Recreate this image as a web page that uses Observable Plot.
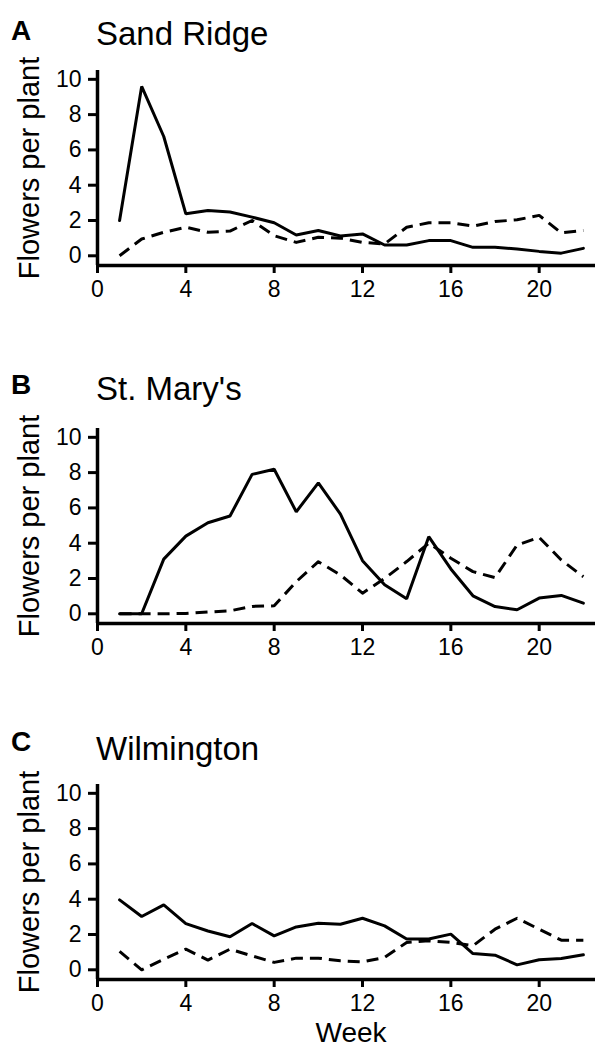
<!DOCTYPE html>
<html>
<head>
<meta charset="utf-8">
<script src="https://cdn.jsdelivr.net/npm/d3@7"></script>
<script src="https://cdn.jsdelivr.net/npm/@observablehq/plot@0.6"></script>
<style>
  body { margin: 0; background: #fff; font-family: "Liberation Sans", Arial, Helvetica, sans-serif; color: #000; }
  #root { position: relative; width: 595px; height: 1050px; overflow: hidden; background: #fff; }
  .letter { position: absolute; font-weight: bold; font-size: 28px; line-height: 1; }
  .title { position: absolute; font-size: 33px; line-height: 1; white-space: nowrap; }
  .ylab { position: absolute; font-size: 29px; line-height: 1; white-space: nowrap; transform: translate(-50%, -50%) rotate(-90deg); }
  .xlab { position: absolute; font-size: 28px; line-height: 1; white-space: nowrap; transform: translateX(-50%); }
  .panel { position: absolute; left: 0; }
  .panel svg { overflow: visible; }
</style>
</head>
<body>
<div id="root"></div>
<script>
// ---- data ----
const weeks = [1,2,3,4,5,6,7,8,9,10,11,12,13,14,15,16,17,18,19,20,21,22];

const sandRidgeSolid  = [2.0, 9.6, 6.76, 2.38, 2.57, 2.48, 2.19, 1.87, 1.18, 1.43, 1.12, 1.24, 0.61, 0.61, 0.86, 0.86, 0.48, 0.48, 0.38, 0.25, 0.15, 0.42];
const sandRidgeDashed = [0.0, 0.95, 1.33, 1.62, 1.33, 1.4, 2.0, 1.14, 0.76, 1.05, 1.0, 0.76, 0.67, 1.62, 1.87, 1.87, 1.68, 1.94, 2.04, 2.29, 1.3, 1.43];

const stMarysSolid  = [0, 0, 3.1, 4.4, 5.16, 5.54, 7.9, 8.19, 5.78, 7.42, 5.65, 3.01, 1.64, 0.85, 4.37, 2.54, 1.02, 0.41, 0.23, 0.89, 1.04, 0.6];
const stMarysDashed = [0, 0, 0, 0.02, 0.1, 0.17, 0.42, 0.45, 1.82, 2.95, 2.2, 1.17, 2.0, 2.96, 4.0, 3.15, 2.39, 2.05, 3.9, 4.33, 3.05, 2.1];

const wilmingtonSolid  = [3.96, 3.02, 3.68, 2.62, 2.2, 1.87, 2.62, 1.92, 2.43, 2.64, 2.58, 2.92, 2.49, 1.74, 1.74, 2.02, 0.92, 0.83, 0.28, 0.57, 0.64, 0.85];
const wilmingtonDashed = [1.04, 0, 0.6, 1.17, 0.55, 1.17, 0.79, 0.42, 0.66, 0.66, 0.51, 0.45, 0.7, 1.55, 1.64, 1.55, 1.36, 2.3, 2.92, 2.3, 1.68, 1.68];

const panelLetters = ["A", "B", "C"];
const panelTitles = ["Sand Ridge", "St. Mary's", "Wilmington"];
const xTicks = [0, 4, 8, 12, 16, 20];
const yTicks = [0, 2, 4, 6, 8, 10];
const yLabel = "Flowers per plant";
const xLabel = "Week";

// ---- layout ----
const xDomain = [0, 22.55];
const yDomain = [-0.55, 10.5];
const panelTops = [60, 418, 774];
const titleTops = [17, 372, 732];
const letterTops = [17, 371, 728];

const root = document.getElementById("root");
const series = [
  [sandRidgeSolid, sandRidgeDashed],
  [stMarysSolid, stMarysDashed],
  [wilmingtonSolid, wilmingtonDashed]
];

function rows(vals) { return weeks.map((w, i) => ({week: w, value: vals[i]})); }

series.forEach(([solid, dashed], k) => {
  const chart = Plot.plot({
    width: 595,
    height: 245,
    marginLeft: 97,
    marginRight: 0,
    marginTop: 10,
    marginBottom: 40,
    style: {fontSize: "23px", fontFamily: "'Liberation Sans', Arial, Helvetica, sans-serif", color: "#000", background: "transparent", overflow: "visible"},
    x: {domain: xDomain},
    y: {domain: yDomain},
    marks: [
      Plot.axisY({ticks: yTicks, tickSize: 9, tickPadding: 7, strokeWidth: 3, label: null}),
      Plot.axisX({ticks: xTicks, tickSize: 8, tickPadding: 7, strokeWidth: 3, label: null}),
      Plot.ruleX([xDomain[0]], {strokeWidth: 3.5, stroke: "#000"}),
      Plot.ruleY([yDomain[0]], {strokeWidth: 3.5, stroke: "#000"}),
      Plot.line(rows(solid), {x: "week", y: "value", stroke: "#000", strokeWidth: 3, strokeLinejoin: "miter"}),
      Plot.line(rows(dashed), {x: "week", y: "value", stroke: "#000", strokeWidth: 3, strokeDasharray: "12,7", strokeLinecap: "butt"})
    ]
  });
  const wrap = document.createElement("div");
  wrap.className = "panel";
  wrap.style.top = panelTops[k] + "px";
  wrap.appendChild(chart);
  root.appendChild(wrap);

  const L = document.createElement("div");
  L.className = "letter";
  L.textContent = panelLetters[k];
  L.style.left = "11px";
  L.style.top = letterTops[k] + "px";
  root.appendChild(L);

  const T = document.createElement("div");
  T.className = "title";
  T.textContent = panelTitles[k];
  T.style.left = "96px";
  T.style.top = titleTops[k] + "px";
  root.appendChild(T);

  const Y = document.createElement("div");
  Y.className = "ylab";
  Y.textContent = yLabel;
  Y.style.left = "29px";
  Y.style.top = (panelTops[k] + 10 + 97.5) + "px";
  root.appendChild(Y);
});

const X = document.createElement("div");
X.className = "xlab";
X.textContent = xLabel;
X.style.left = "351px";
X.style.top = "1019px";
root.appendChild(X);
</script>
</body>
</html>
